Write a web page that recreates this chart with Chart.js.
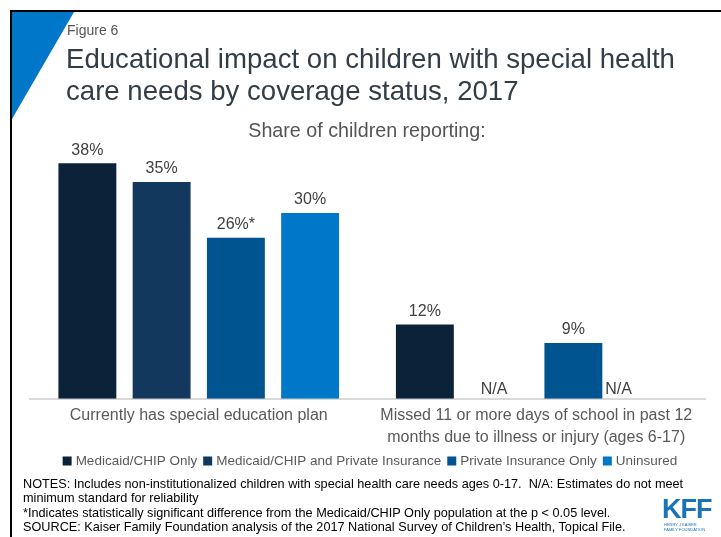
<!DOCTYPE html>
<html>
<head>
<meta charset="utf-8">
<script src="https://cdn.jsdelivr.net/npm/chart.js@4.4.1/dist/chart.umd.min.js"></script>
<style>
  html, body { margin:0; padding:0; background:#fff; }
  body { width:721px; height:537px; position:relative; overflow:hidden; font-family:"Liberation Sans", Arial, sans-serif; }
  #frameTop { position:absolute; left:10px; top:10px; width:711px; height:2px; background:#000; }
  #frameLeft { position:absolute; left:10px; top:10px; width:2px; height:527px; background:#000; }
  #tri { position:absolute; left:0; top:0; }
  .t { position:absolute; white-space:nowrap; }
  #fig { left:67px; top:22px; font-size:14px; color:#555; }
  #title { left:66px; top:43px; font-size:27.6px; line-height:32px; color:#333d47; }
  #sub { left:0; width:734px; text-align:center; top:119px; font-size:19.7px; color:#555; }
  #notes { left:23px; top:477px; font-size:12.7px; line-height:14.3px; color:#000; }
  #kff { left:662px; top:494px; font-size:27px; font-weight:bold; color:#1a73ba; letter-spacing:-1px; }
  #kffsub { left:664px; top:522px; font-size:4px; line-height:5px; color:#1a73ba; }
  canvas { position:absolute; left:0; top:0; }
</style>
</head>
<body>
<canvas id="c" width="721" height="537"></canvas>
<div id="frameTop"></div>
<div id="frameLeft"></div>
<svg id="tri" width="80" height="130"><polygon points="12,12 74,12 12,119" fill="#0077c8"/></svg>
<div class="t" id="fig">Figure 6</div>
<div class="t" id="title">Educational impact on children with special health<br>care needs by coverage status, 2017</div>
<div class="t" id="sub">Share of children reporting:</div>
<div class="t" id="notes">NOTES: Includes non-institutionalized children with special health care needs ages 0-17.&nbsp; N/A: Estimates do not meet<br>minimum standard for reliability<br>*Indicates statistically significant difference from the Medicaid/CHIP Only population at the p &lt; 0.05 level.<br>SOURCE: Kaiser Family Foundation analysis of the 2017 National Survey of Children’s Health, Topical File.</div>
<div class="t" id="kff">KFF</div>
<div class="t" id="kffsub">HENRY J KAISER<br>FAMILY FOUNDATION</div>
<script>
const categories = [
  ["Currently has special education plan"],
  ["Missed 11 or more days of school in past 12", "months due to illness or injury (ages 6-17)"]
];
const seriesNames = ["Medicaid/CHIP Only", "Medicaid/CHIP and Private Insurance", "Private Insurance Only", "Uninsured"];
const medicaidOnly = [38, 12];
const medicaidPrivate = [35, null];
const privateOnly = [26, 9];
const uninsured = [30, null];
const privateOnlyMarks = ["*", ""];
const seriesColors = ["#0b2239", "#12395d", "#00548f", "#0077c8"];

const valuesBySeries = [medicaidOnly, medicaidPrivate, privateOnly, uninsured];
const marksBySeries = [["", ""], ["", ""], privateOnlyMarks, ["", ""]];

const FONT = '"Liberation Sans", Arial, sans-serif';

const labelPlugin = {
  id: 'valueLabels',
  afterDatasetsDraw(chart) {
    const ctx = chart.ctx;
    const base = chart.scales.y.getPixelForValue(0);
    ctx.save();
    chart.data.datasets.forEach((ds, di) => {
      const meta = chart.getDatasetMeta(di);
      meta.data.forEach((bar, i) => {
        const v = ds.data[i];
        ctx.fillStyle = '#404040';
        ctx.textAlign = 'center';
        ctx.textBaseline = 'middle';
        ctx.font = '16px ' + FONT;
        if (v === null || v === undefined) {
          const off = (di === 1) ? -5 : -29;
          ctx.fillText('N/A', bar.x + off, base - 9);
        } else {
          ctx.fillText(v + '%' + marksBySeries[di][i], bar.x, bar.y - 13);
        }
      });
    });
    ctx.restore();
  }
};

const legendPlugin = {
  id: 'customLegend',
  afterDraw(chart) {
    const ctx = chart.ctx;
    const box = 9, gapBox = 4, gapItem = 6, y = 461;
    ctx.save();
    ctx.font = '13.5px ' + FONT;
    ctx.textBaseline = 'middle';
    ctx.textAlign = 'left';
    const items = chart.data.datasets.map(d => ({ text: d.label, color: d.backgroundColor, w: ctx.measureText(d.label).width }));
    const total = items.reduce((s, it) => s + box + gapBox + it.w, 0) + gapItem * (items.length - 1);
    let x = 370 - total / 2;
    items.forEach(it => {
      ctx.fillStyle = it.color;
      ctx.fillRect(x, y - box / 2, box, box);
      x += box + gapBox;
      ctx.fillStyle = '#595959';
      ctx.fillText(it.text, x, y);
      x += it.w + gapItem;
    });
    ctx.restore();
  }
};

new Chart(document.getElementById('c'), {
  type: 'bar',
  data: {
    labels: categories,
    datasets: seriesNames.map((n, k) => ({
      label: n,
      data: valuesBySeries[k],
      backgroundColor: seriesColors[k],
      borderWidth: 0,
      barPercentage: 0.78,
      categoryPercentage: 0.88
    }))
  },
  options: {
    responsive: false,
    animation: false,
    events: [],
    layout: { padding: { left: 30, right: 16, top: 89, bottom: 83 } },
    plugins: {
      legend: { display: false },
      tooltip: { enabled: false },
      title: { display: false }
    },
    scales: {
      x: {
        grid: { display: false, drawTicks: false },
        border: { display: true, color: '#d9d9d9', width: 2 },
        ticks: {
          color: '#595959', padding: 6, maxRotation: 0, autoSkip: false,
          font: { size: 16, family: FONT, lineHeight: 1.35 }
        }
      },
      y: {
        display: false, min: 0, max: 50
      }
    }
  },
  plugins: [labelPlugin, legendPlugin]
});
</script>
</body>
</html>
